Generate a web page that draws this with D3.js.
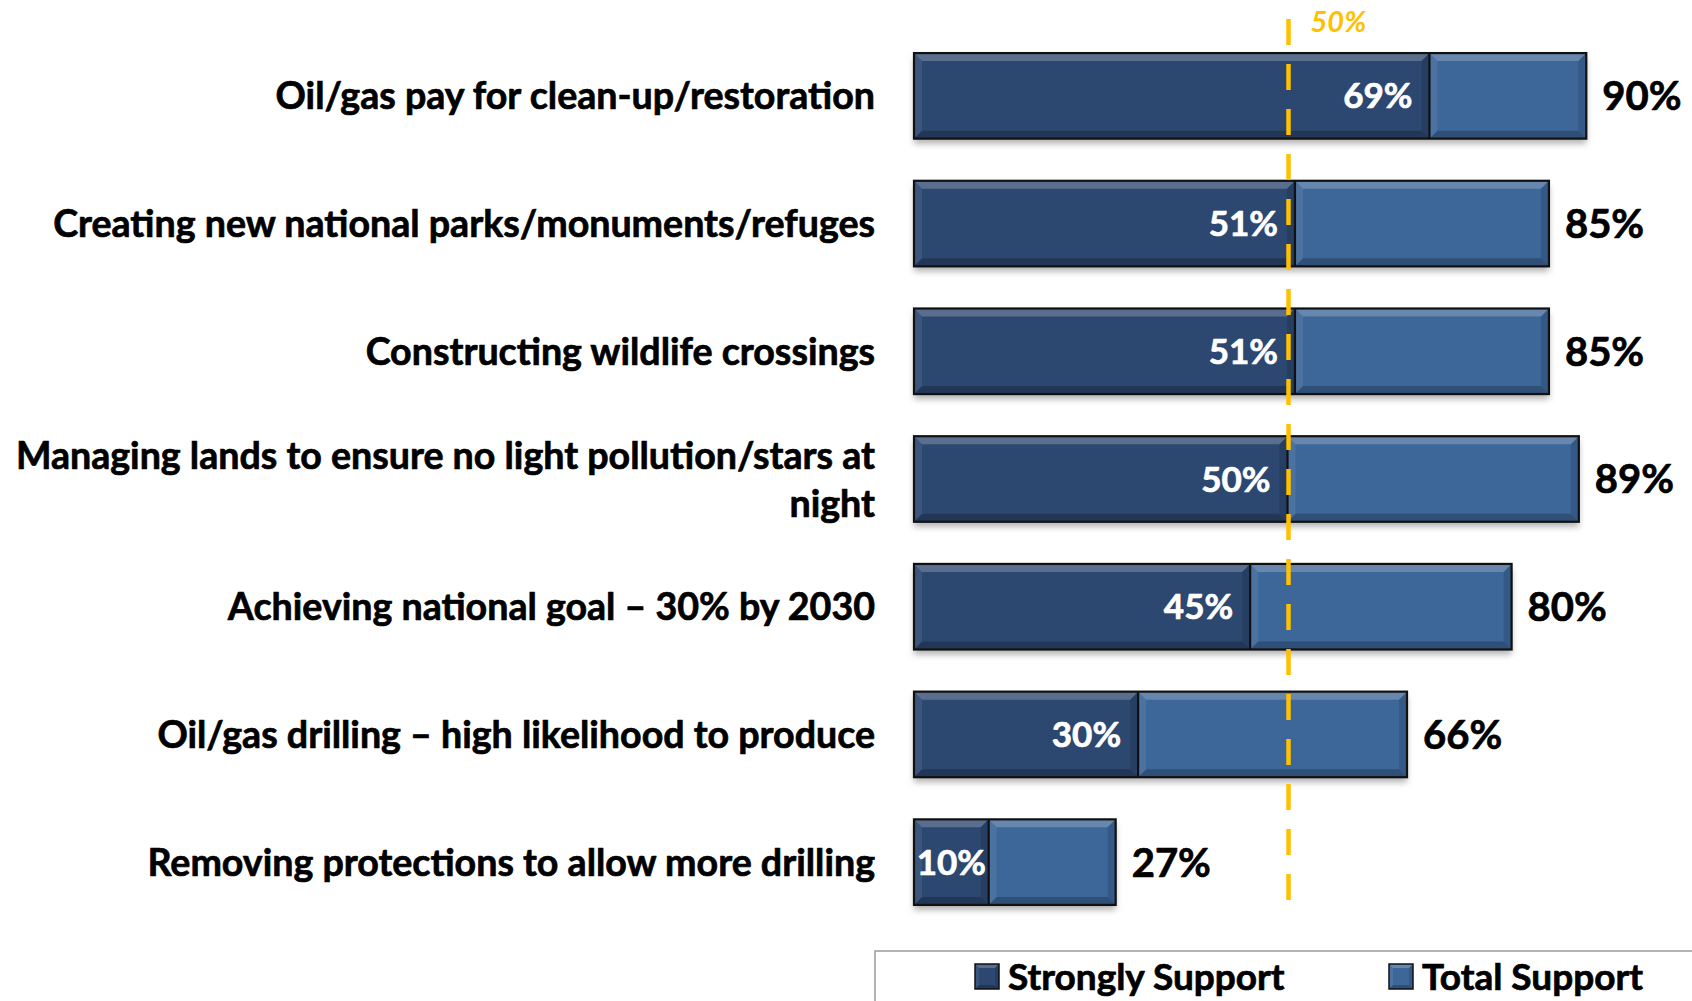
<!DOCTYPE html>
<html>
<head>
<meta charset="utf-8">
<script src="https://cdn.jsdelivr.net/npm/d3@7"></script>
<style>
  html, body { margin: 0; padding: 0; background: #ffffff; }
  svg { display: block; }
  text { font-family: Lato, "Open Sans", sans-serif; font-weight: 700; }
  .heavy { stroke-width: 0.7px; stroke-linejoin: round; }
</style>
</head>
<body>
<svg id="chart" width="1692" height="1001"></svg>
<script>
const categories = [
  ["Oil/gas pay for clean-up/restoration"],
  ["Creating new national parks/monuments/refuges"],
  ["Constructing wildlife crossings"],
  ["Managing lands to ensure no light pollution/stars at", "night"],
  ["Achieving national goal \u2013 30% by 2030"],
  ["Oil/gas drilling \u2013 high likelihood to produce"],
  ["Removing protections to allow more drilling"]
];
const stronglySupport = [69, 51, 51, 50, 45, 30, 10];
const totalSupport = [90, 85, 85, 89, 80, 66, 27];
const seriesNames = ["Strongly Support", "Total Support"];
const referenceValue = 50;
const referenceLabel = "50%";

const colors = { strong: "#2C4770", total: "#3D6699", ref: "#FFC000" };

const svg = d3.select("#chart");
const keys = categories.map((c, i) => "c" + i);

const x = d3.scaleLinear().domain([0, 100]).range([914, 914 + 747]);
const y = d3.scaleBand().domain(keys).range([32, 926]).paddingInner(0.33).paddingOuter(0.165);

const defs = svg.append("defs");
const f = defs.append("filter").attr("id", "shadow").attr("x", "-5%").attr("y", "-20%").attr("width", "110%").attr("height", "150%");
f.append("feDropShadow").attr("dx", 0).attr("dy", 5).attr("stdDeviation", 3).attr("flood-color", "#000").attr("flood-opacity", 0.3);

// bevel overlay for a rect
function bevel(g, x0, y0, w, h, b) {
  const x1 = x0 + w, y1 = y0 + h;
  const bb = Math.min(b, w / 2, h / 2);
  const poly = (pts, fill, op) => g.append("polygon")
    .attr("points", pts.map(p => p.join(",")).join(" "))
    .attr("fill", fill).attr("fill-opacity", op);
  poly([[x0, y0], [x1, y0], [x1 - bb, y0 + bb], [x0 + bb, y0 + bb]], "#ffffff", 0.22);
  poly([[x0, y1], [x1, y1], [x1 - bb, y1 - bb], [x0 + bb, y1 - bb]], "#000000", 0.22);
  poly([[x0, y0], [x0 + bb, y0 + bb], [x0 + bb, y1 - bb], [x0, y1]], "#ffffff", 0.08);
  poly([[x1, y0], [x1 - bb, y0 + bb], [x1 - bb, y1 - bb], [x1, y1]], "#000000", 0.12);
}

const rows = svg.append("g").selectAll("g").data(keys).join("g");

// total bars
rows.append("rect")
  .attr("x", x(0))
  .attr("y", k => y(k))
  .attr("width", (k, i) => x(totalSupport[i]) - x(0))
  .attr("height", y.bandwidth())
  .attr("fill", colors.total)
  .attr("filter", "url(#shadow)");
rows.each(function(k, i) {
  bevel(d3.select(this), x(stronglySupport[i]), y(k), x(totalSupport[i]) - x(stronglySupport[i]), y.bandwidth(), 8);
});

// strongly bars
rows.append("rect")
  .attr("x", x(0))
  .attr("y", k => y(k))
  .attr("width", (k, i) => x(stronglySupport[i]) - x(0))
  .attr("height", y.bandwidth())
  .attr("fill", colors.strong);
rows.each(function(k, i) {
  bevel(d3.select(this), x(0), y(k), x(stronglySupport[i]) - x(0), y.bandwidth(), 8);
});

// outlines
rows.append("rect")
  .attr("x", x(0))
  .attr("y", k => y(k))
  .attr("width", (k, i) => x(totalSupport[i]) - x(0))
  .attr("height", y.bandwidth())
  .attr("fill", "none")
  .attr("stroke", "#111")
  .attr("stroke-width", 2.2);
rows.append("line")
  .attr("x1", (k, i) => x(stronglySupport[i]))
  .attr("x2", (k, i) => x(stronglySupport[i]))
  .attr("y1", k => y(k))
  .attr("y2", k => y(k) + y.bandwidth())
  .attr("stroke", "#111")
  .attr("stroke-width", 2.2);

// inside labels
rows.append("text")
  .attr("class", "heavy")
  .attr("x", (k, i) => {
    const w = x(stronglySupport[i]) - x(0);
    return w > 110 ? x(stronglySupport[i]) - 17 : (x(0) + x(stronglySupport[i])) / 2;
  })
  .attr("text-anchor", (k, i) => (x(stronglySupport[i]) - x(0)) > 110 ? "end" : "middle")
  .attr("y", k => y(k) + y.bandwidth() / 2)
  .attr("dy", "0.36em")
  .attr("fill", "#ffffff")
  .attr("stroke", "#ffffff")
  .style("font-size", "35px")
  .text((k, i) => stronglySupport[i] + "%");

// outside labels
rows.append("text")
  .attr("class", "heavy")
  .attr("x", (k, i) => x(totalSupport[i]) + 16)
  .attr("y", k => y(k) + y.bandwidth() / 2)
  .attr("dy", "0.36em")
  .attr("fill", "#000")
  .attr("stroke", "#000")
  .style("font-size", "40px")
  .text((k, i) => totalSupport[i] + "%");

// category labels
const fs = 37.6;
rows.append("text")
  .attr("class", "heavy")
  .attr("x", 875)
  .attr("y", k => y(k) + y.bandwidth() / 2)
  .attr("text-anchor", "end")
  .attr("fill", "#000")
  .attr("stroke", "#000")
  .style("font-size", fs + "px")
  .each(function(k, i) {
    const lines = categories[i];
    const t = d3.select(this);
    const lh = 48;
    lines.forEach((ln, j) => {
      t.append("tspan")
        .attr("x", 875)
        .attr("dy", j === 0 ? (0.36 * fs - (lines.length - 1) * lh / 2) + "px" : lh + "px")
        .text(ln);
    });
  });

// reference dashed line
svg.append("line")
  .attr("x1", x(referenceValue) + 1).attr("x2", x(referenceValue) + 1)
  .attr("y1", 19).attr("y2", 905)
  .attr("stroke", colors.ref)
  .attr("stroke-width", 4.5)
  .attr("stroke-dasharray", "26 19");

svg.append("text")
  .attr("x", x(referenceValue) + 23)
  .attr("y", 22)
  .attr("dy", "0.36em")
  .attr("fill", colors.ref)
  .style("font-style", "italic")
  .style("font-size", "29px")
  .text(referenceLabel);

// legend
const lg = svg.append("g");
lg.append("rect")
  .attr("x", 875).attr("y", 951)
  .attr("width", 900).attr("height", 80)
  .attr("fill", "#fff")
  .attr("stroke", "#9a9a9a")
  .attr("stroke-width", 1.5);
const legendItems = [
  { name: seriesNames[0], fill: colors.strong, x: 975 },
  { name: seriesNames[1], fill: colors.total, x: 1389 }
];
const li = lg.selectAll("g.item").data(legendItems).join("g").attr("class", "item");
li.append("rect")
  .attr("x", d => d.x).attr("y", 964)
  .attr("width", 24).attr("height", 25)
  .attr("fill", d => d.fill);
li.each(function(d) { bevel(d3.select(this), d.x, 964, 24, 25, 4); });
li.append("rect")
  .attr("x", d => d.x).attr("y", 964)
  .attr("width", 24).attr("height", 25)
  .attr("fill", "none")
  .attr("stroke", "#111").attr("stroke-width", 1.5);
li.append("text")
  .attr("class", "heavy")
  .attr("x", d => d.x + 33)
  .attr("y", 977)
  .attr("dy", "0.36em")
  .attr("fill", "#000")
  .attr("stroke", "#000")
  .style("font-size", "37px")
  .text(d => d.name);
</script>
</body>
</html>
